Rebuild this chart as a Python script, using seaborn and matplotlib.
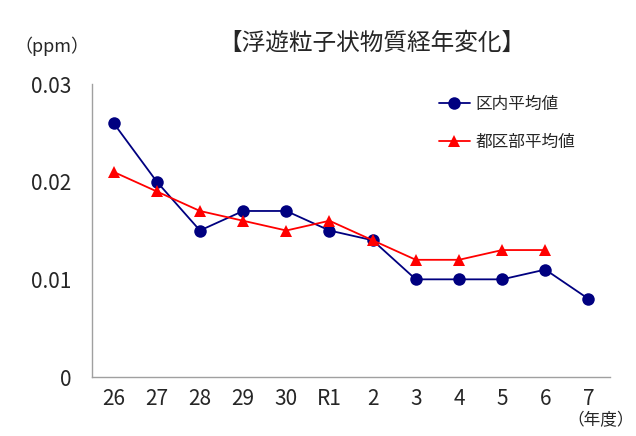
import numpy as np
import pandas as pd
import seaborn as sns
import matplotlib.pyplot as plt

# data
years = ['26', '27', '28', '29', '30', 'R1', '2', '3', '4', '5', '6', '7']
ku_avg = [0.026, 0.020, 0.015, 0.017, 0.017, 0.015, 0.014, 0.010, 0.010, 0.010, 0.011, 0.008]
tokubu_avg = [0.021, 0.019, 0.017, 0.016, 0.015, 0.016, 0.014, 0.012, 0.012, 0.013, 0.013, np.nan]
series_names = ['区内平均値', '都区部平均値']

df = pd.DataFrame({
    'pos': list(range(len(years))) * 2,
    'value': ku_avg + tokubu_avg,
    'series': [series_names[0]] * len(years) + [series_names[1]] * len(years),
})

sns.set_style('white')
plt.rcParams['font.family'] = ['Noto Sans CJK JP', 'DejaVu Sans']

fig = plt.figure(figsize=(6.36, 4.36), dpi=100)
ax = fig.add_axes([0.1447, 0.1353, 0.8145, 0.672])

sns.lineplot(data=df, x='pos', y='value', hue='series', style='series',
             palette={series_names[0]: '#000080', series_names[1]: '#FF0000'},
             markers={series_names[0]: 'o', series_names[1]: '^'},
             dashes=False, markersize=9, markeredgewidth=0, linewidth=1.3,
             ax=ax)

ax.set_xlim(-0.5, len(years) - 0.5)
ax.set_ylim(0, 0.03)
ax.set_yticks([0, 0.01, 0.02, 0.03])
ax.set_yticklabels(['0', '0.01', '0.02', '0.03'], fontsize=15)
ax.set_xticks(range(len(years)))
ax.set_xticklabels(years, fontsize=15)
ax.set_xticks(np.arange(-0.5, len(years)), minor=True)
ax.tick_params(axis='x', which='major', length=0, pad=8)
ax.tick_params(axis='x', which='minor', direction='in', length=5, color='#a0a0a0')
ax.tick_params(axis='y', direction='out', length=5, color='#a0a0a0', pad=10)
ax.set_xlabel('')
ax.set_ylabel('')

for side in ['top', 'right']:
    ax.spines[side].set_visible(False)
for side in ['left', 'bottom']:
    ax.spines[side].set_color('#a0a0a0')
    ax.spines[side].set_linewidth(1)

leg = ax.legend(loc='upper left', bbox_to_anchor=(0.64, 1.01), frameon=False,
                fontsize=12, handlelength=1.9, labelspacing=1.25, handletextpad=0.3)

fig.text(0.585, 0.9, '【浮遊粒子状物質経年変化】', ha='center', va='center', fontsize=17)
fig.text(0.022, 0.894, '（ppm）', ha='left', va='center', fontsize=13)
fig.text(0.997, 0.035, '（年度）', ha='right', va='center', fontsize=12)

fig.savefig('out.png', dpi=100)
